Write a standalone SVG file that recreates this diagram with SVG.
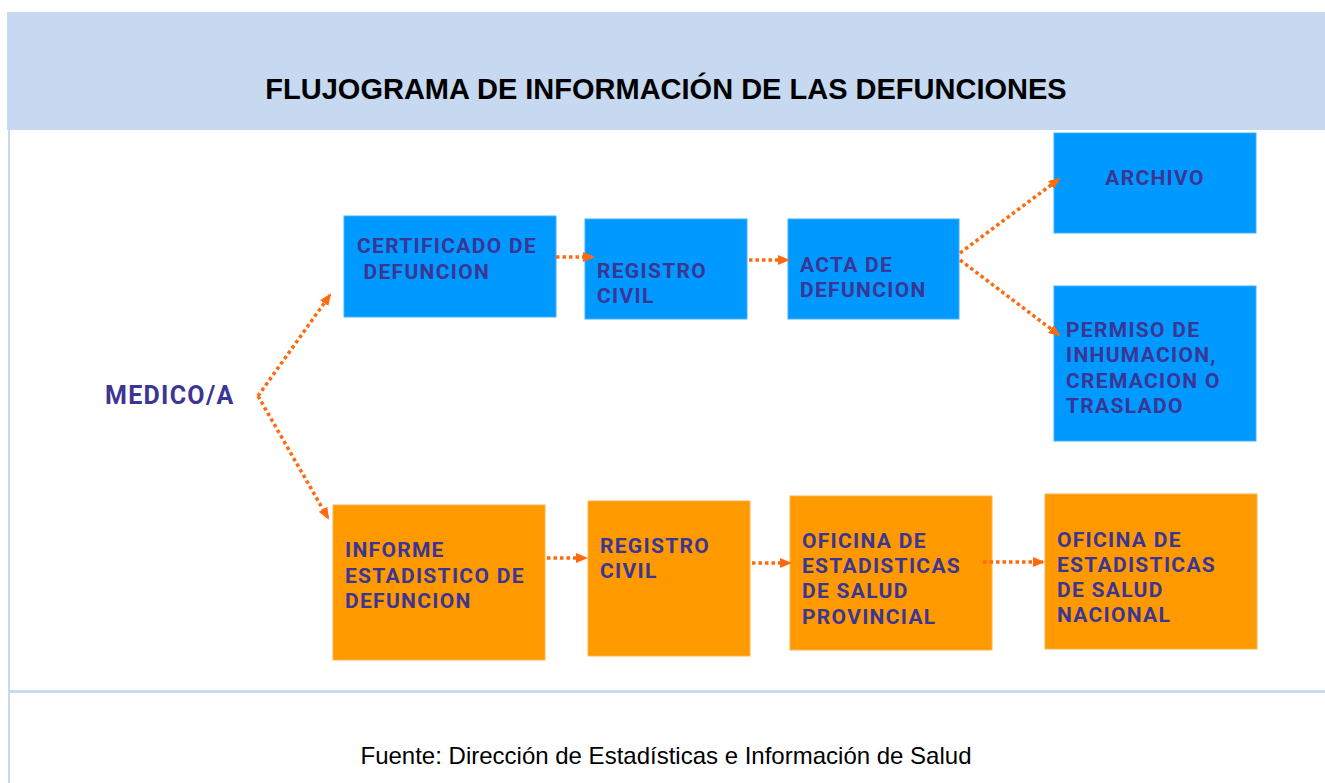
<svg xmlns="http://www.w3.org/2000/svg" width="1325" height="783" viewBox="0 0 1325 783">
<style>
.title{font-family:"Liberation Sans",Arial,sans-serif;font-weight:bold;font-size:29px;fill:#000}
.foot{font-family:"Liberation Sans",Arial,sans-serif;font-size:24px;fill:#000}
.lbl{font-family:Roboto,"Open Sans",sans-serif;font-weight:bold;font-size:21px;letter-spacing:1.3px;fill:#3b3594}
.blue{fill:#0099ff;stroke:#3fb0ff;stroke-width:1}
.orange{fill:#ff9900;stroke:#ffb347;stroke-width:1}
.conn{fill:none;stroke:#ff6a10;stroke-width:3.5;stroke-dasharray:3.5 3;marker-end:url(#ah)}
</style>
<defs>
<marker id="ah" markerWidth="12" markerHeight="10" refX="10" refY="5" orient="auto" markerUnits="userSpaceOnUse" viewBox="0 0 12 10">
<path d="M0,0 L12,5 L0,10 Z" fill="#ff6a10"/>
</marker>
</defs>
<rect x="0" y="0" width="1325" height="783" fill="#fff"/>
<rect x="7" y="12" width="1318" height="118" fill="#c6d9f1"/>
<rect x="8" y="130" width="2" height="653" fill="#c6d9f1"/>
<rect x="8" y="690" width="1317" height="3" fill="#c6d9f1"/>
<text class="title" x="666" y="99" text-anchor="middle">FLUJOGRAMA DE INFORMACIÓN DE LAS DEFUNCIONES</text>
<text class="foot" x="666" y="764" text-anchor="middle">Fuente: Dirección de Estadísticas e Información de Salud</text>

<g id="medico"><text class="lbl" x="105" y="404" style="font-size:25px">MEDICO/A</text></g>

<g id="certificado"><rect class="blue" x="344" y="216" width="212" height="101"/>
<text class="lbl" xml:space="preserve"><tspan x="357" y="253">CERTIFICADO DE</tspan><tspan x="357" y="279"> DEFUNCION</tspan></text></g>

<g id="registro-civil-1"><rect class="blue" x="585" y="219" width="162" height="100"/>
<text class="lbl"><tspan x="597" y="278">REGISTRO</tspan><tspan x="597" y="303">CIVIL</tspan></text></g>

<g id="acta"><rect class="blue" x="788" y="219" width="171" height="100"/>
<text class="lbl"><tspan x="800" y="272">ACTA DE</tspan><tspan x="800" y="297">DEFUNCION</tspan></text></g>

<g id="archivo"><rect class="blue" x="1054" y="133" width="202" height="100"/>
<text class="lbl" x="1155" y="185" text-anchor="middle">ARCHIVO</text></g>

<g id="permiso"><rect class="blue" x="1054" y="286" width="202" height="155"/>
<text class="lbl"><tspan x="1066" y="337">PERMISO DE</tspan><tspan x="1066" y="362">INHUMACION,</tspan><tspan x="1066" y="388">CREMACION O</tspan><tspan x="1066" y="413">TRASLADO</tspan></text></g>

<g id="informe"><rect class="orange" x="333" y="505" width="212" height="155"/>
<text class="lbl"><tspan x="345" y="557">INFORME</tspan><tspan x="345" y="583">ESTADISTICO DE</tspan><tspan x="345" y="608">DEFUNCION</tspan></text></g>

<g id="registro-civil-2"><rect class="orange" x="588" y="501" width="162" height="155"/>
<text class="lbl"><tspan x="600" y="553">REGISTRO</tspan><tspan x="600" y="578">CIVIL</tspan></text></g>

<g id="oficina-provincial"><rect class="orange" x="790" y="496" width="202" height="154"/>
<text class="lbl"><tspan x="802" y="548">OFICINA DE</tspan><tspan x="802" y="573">ESTADISTICAS</tspan><tspan x="802" y="598">DE SALUD</tspan><tspan x="802" y="624">PROVINCIAL</tspan></text></g>

<g id="oficina-nacional"><rect class="orange" x="1045" y="494" width="212" height="155"/>
<text class="lbl"><tspan x="1057" y="547">OFICINA DE</tspan><tspan x="1057" y="572">ESTADISTICAS</tspan><tspan x="1057" y="597">DE SALUD</tspan><tspan x="1057" y="622">NACIONAL</tspan></text></g>

<g id="connectors">
<path class="conn" d="M258,396 L330,295"/>
<path class="conn" d="M258,396 L328,518"/>
<path class="conn" d="M556,257 L593,257"/>
<path class="conn" d="M749,260 L788,260"/>
<path class="conn" d="M960,253 L1059,179"/>
<path class="conn" d="M960,260 L1059,335"/>
<path class="conn" d="M547,558 L586,558"/>
<path class="conn" d="M752,563 L790,563"/>
<path class="conn" d="M983,562 L1043,562"/>
</g>
</svg>
